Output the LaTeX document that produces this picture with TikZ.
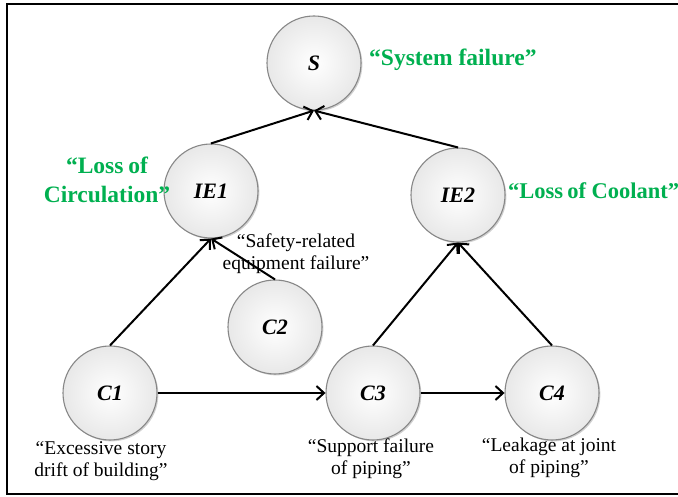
\documentclass[tikz,border=0pt]{standalone}
\usepackage{fontspec}
\setmainfont{Liberation Serif}
\usetikzlibrary{arrows.meta,shadows}
\definecolor{labelgreen}{RGB}{0,176,80}
\definecolor{rimgray}{RGB}{135,135,135}
\tikzset{
  event/.style={circle, minimum size=94pt, inner sep=0pt, draw=rimgray, line width=1.1pt,
    inner color=white, outer color=black!9,
    drop shadow={shadow xshift=1.4pt, shadow yshift=-1.4pt, opacity=0.18, fill=black},
    font=\fontsize{22}{24}\selectfont\bfseries\itshape},
  link/.style={line width=2pt, -{Straight Barb[length=7.5pt, width=14pt, line width=2pt]}},
  note/.style={align=center, font=\fontsize{19.5}{22}\selectfont, inner sep=0pt},
  title/.style={align=center, text=labelgreen, font=\fontsize{23.5}{29}\selectfont\bfseries, inner sep=0pt}
}
\begin{document}
\begin{tikzpicture}[x=1pt,y=-1pt]
\useasboundingbox (0,0) rectangle (678,497);
\fill[white] (0,0) rectangle (678,497);
\draw[line width=2.4pt] (7,4) rectangle (700,494);

% events
\node[event] (S)   at (314,63)  {S};
\node[event] (IE1) at (211,191) {IE1};
\node[event] (IE2) at (458,195) {IE2};
\node[event] (C2)  at (275,327) {C2};
\node[event] (C1)  at (110,393) {C1};
\node[event] (C3)  at (373,393) {C3};
\node[event] (C4)  at (552,393) {C4};

% descriptions
\node[title, anchor=west] (tS) at (369,60) {“System failure”};
\node[title] (tIE1) at (107,180) {“Loss\hspace{-1pt} of\\Circulation”};
\node[title, anchor=west, font=\fontsize{22.5}{28}\selectfont\bfseries] (tIE2) at (508,191) {“Loss\hspace{-1.5pt} of Coolant”};
\node[note] (nC2) at (296,254) {“Safety-related\\equipment failure”};
\node[note] (nC1) at (101,461) {“Excessive story\\drift of building”};
\node[note] (nC3) at (371,459) {“Support failure\\of piping”};
\node[note] (nC4) at (549,458) {“Leakage at joint\\of piping”};

% causal links
\draw[link] (IE1.north) -- (S.south);
\draw[link] (IE2.north) -- (S.south);
\draw[link] (C1.north) -- (IE1.south);
\draw[link] (C2.north) -- (IE1.south);
\draw[link] (C3.north) -- (IE2.south);
\draw[link] (C4.north) -- (IE2.south);
\draw[link] (C1.east) -- (C3.west);
\draw[link] (C3.east) -- (C4.west);
\end{tikzpicture}
\end{document}
